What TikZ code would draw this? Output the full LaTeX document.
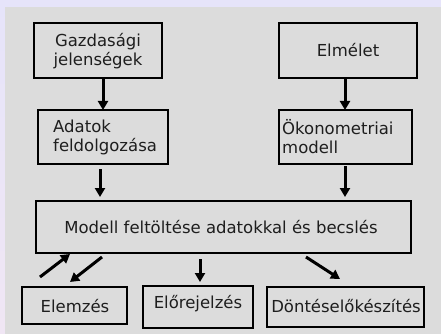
\documentclass[tikz,border=0pt]{standalone}
\usepackage{fontspec}
\setmainfont{DejaVu Sans}
\usetikzlibrary{arrows.meta}
\definecolor{lav}{HTML}{E6E4FA}
\definecolor{lavb}{HTML}{F0E6F4}
\definecolor{panel}{HTML}{DCDCDC}
\definecolor{ink}{HTML}{1E1E1E}
\begin{document}
\begin{tikzpicture}[x=1pt,y=-1pt,
  box/.style={draw=black,line width=2.8pt,fill=panel,inner sep=0pt},
  lbl/.style={font=\fontsize{16.5}{19}\selectfont,text=ink,align=left,inner sep=0pt},
  arr/.style={line width=3pt,-{Triangle[length=9pt,width=10pt]}}]
\useasboundingbox (0,0) rectangle (441,334);
\shade[top color=lav,bottom color=lavb] (0,0) rectangle (441,334);
\fill[panel] (5,7) rectangle (441,334);
% boxes
\node[box,minimum width=128pt,minimum height=55pt] (g) at (98,50.5) {};
\node[box,minimum width=138pt,minimum height=55pt] (e) at (348,50.5) {};
\node[box,minimum width=130pt,minimum height=54pt] (a) at (103,137) {};
\node[box,minimum width=133pt,minimum height=54pt] (o) at (345.5,137) {};
\node[box,minimum width=375pt,minimum height=52pt] (m) at (223.5,227) {};
\node[box,minimum width=105pt,minimum height=37pt] (el) at (74.5,305.5) {};
\node[box,minimum width=110pt,minimum height=42pt] (ej) at (198,307) {};
\node[box,minimum width=157pt,minimum height=40pt] (d) at (345.5,307) {};
% texts
\node[lbl,align=center] (gt) at (98,51) {Gazdasági\\jelenségek};
\node[lbl] (et) at (348,50.5) {Elmélet};
\node[lbl,anchor=west] (at) at (53,137) {Adatok\\feldolgozása};
\node[lbl,anchor=west] (ot) at (282,137) {Ökonometriai\\modell};
\node[lbl] (mt) at (221,227) {Modell feltöltése adatokkal és becslés};
\node[lbl] (elt) at (75,306) {Elemzés};
\node[lbl] (ejt) at (198,304) {Előrejelzés};
\node[lbl] (dt) at (346,306) {Döntéselőkészítés};
% arrows
\coordinate (g1) at (103,79); \coordinate (a0) at (103,110);
\draw[arr] (g1) -- (a0);
\coordinate (e1) at (345,79); \coordinate (o0) at (345,110);
\draw[arr] (e1) -- (o0);
\coordinate (a1) at (100,169); \coordinate (m0) at (100,197);
\draw[arr] (a1) -- (m0);
\coordinate (o1) at (345,166); \coordinate (m0b) at (345,197);
\draw[arr] (o1) -- (m0b);
\coordinate (p1) at (40,277); \coordinate (p2) at (70,254);
\draw[arr] (p1) -- (p2);
\coordinate (q1) at (102,257); \coordinate (q2) at (70,282);
\draw[arr] (q1) -- (q2);
\coordinate (r1) at (200,259); \coordinate (r2) at (200,282);
\draw[arr] (r1) -- (r2);
\coordinate (s1) at (306,257); \coordinate (s2) at (340,279);
\draw[arr] (s1) -- (s2);
\end{tikzpicture}
\end{document}
